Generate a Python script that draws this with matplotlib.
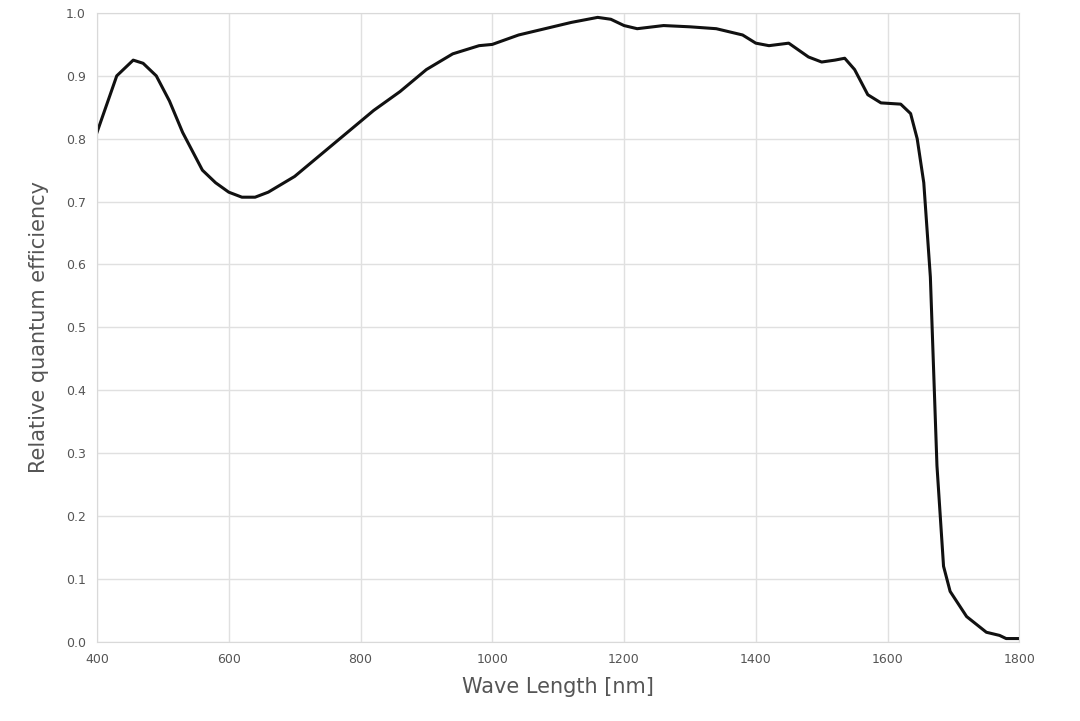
import matplotlib.pyplot as plt
import numpy as np

wavelength = [400, 420, 430, 455, 470, 490, 510, 530, 560, 580, 600, 620, 640, 660, 700,
              740, 780, 820, 860, 900, 940, 980, 1000, 1040, 1080, 1120, 1160, 1180, 1200,
              1220, 1260, 1300, 1340, 1380, 1400, 1420, 1450, 1480, 1500, 1520, 1535, 1550,
              1570, 1590, 1620, 1635, 1645, 1655, 1665, 1675, 1685, 1695, 1720, 1750, 1770,
              1780, 1800]
efficiency = [0.81, 0.87, 0.90, 0.925, 0.92, 0.90, 0.86, 0.81, 0.75, 0.73, 0.715, 0.707,
              0.707, 0.715, 0.74, 0.775, 0.81, 0.845, 0.875, 0.91, 0.935, 0.948, 0.95,
              0.965, 0.975, 0.985, 0.993, 0.99, 0.98, 0.975, 0.98, 0.978, 0.975, 0.965,
              0.952, 0.948, 0.952, 0.93, 0.922, 0.925, 0.928, 0.91, 0.87, 0.857, 0.855,
              0.84, 0.80, 0.73, 0.58, 0.28, 0.12, 0.08, 0.04, 0.015, 0.01, 0.005, 0.005]

fig = plt.figure(figsize=(10.8, 7.21), dpi=100)
ax = fig.add_axes([0.0898, 0.110, 0.854, 0.872])
ax.plot(wavelength, efficiency, color='#111111', linewidth=2.2)

ax.set_xlim(400, 1800)
ax.set_ylim(0, 1.0)
ax.set_xticks(np.arange(400, 1801, 200))
ax.set_yticks(np.arange(0, 1.01, 0.1))
ax.set_yticklabels([f"{v:.1f}" for v in np.arange(0, 1.01, 0.1)])
ax.grid(color='#e0e0e0', linewidth=1)
for s in ax.spines.values():
    s.set_color('#d9d9d9')
ax.tick_params(length=0, labelsize=9, colors='#555555', pad=8)
ax.set_xlabel('Wave Length [nm]', fontsize=15, color='#555555', labelpad=8)
ax.set_ylabel('Relative quantum efficiency', fontsize=15, color='#555555', labelpad=12)

plt.savefig('out.png', dpi=100)
